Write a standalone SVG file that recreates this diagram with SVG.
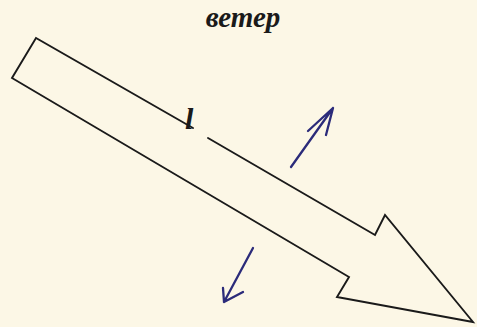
<svg xmlns="http://www.w3.org/2000/svg" width="477" height="327" viewBox="0 0 477 327">
  <style>
    .outline { fill: none; stroke: #1a1a1a; stroke-width: 1.9; stroke-linejoin: miter; stroke-linecap: round; }
    .blue { fill: none; stroke: #2b2b7a; stroke-width: 2.3; stroke-linecap: round; stroke-linejoin: round; }
    .title { font-family: "Liberation Serif", "DejaVu Serif", serif; font-style: italic; font-weight: bold; font-size: 29px; fill: #1a1a1a; }
  </style>
  <rect x="0" y="0" width="477" height="327" fill="#fcf7e6"/>
  <g id="title">
    <text class="title" x="243" y="27" text-anchor="middle">ветер</text>
  </g>
  <g id="wind-arrow">
    <polyline class="outline" points="208,138 375,235 385,215 473,322 337,297 349,277 12,78 36,38 193,128"/>
    <text x="185" y="129" font-family="Liberation Serif, serif" font-weight="bold" font-style="italic" font-size="30" fill="#1a1a1a">l</text>
  </g>
  <g id="connectors">
    <g id="arrow-up">
      <path class="blue" d="M291,167 L333,108 M308,131 L333,108 L326,135"/>
    </g>
    <g id="arrow-down">
      <path class="blue" d="M253,248 L224,302 M223,288 L224,302 L243,292"/>
    </g>
  </g>
</svg>
